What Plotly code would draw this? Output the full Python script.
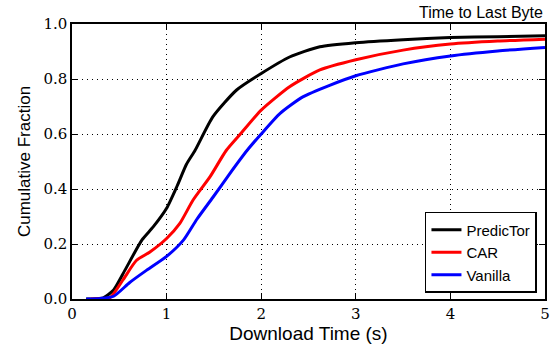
import plotly.graph_objects as go

# Data
pred_x = [0.15, 0.25, 0.33, 0.44, 0.56, 0.74, 0.86, 1.0, 1.11, 1.21, 1.30, 1.49, 1.74, 2.0, 2.3, 2.62, 3.0, 3.5, 4.0, 4.5, 5.0]
pred_y = [0.0, 0.001, 0.004, 0.033, 0.105, 0.215, 0.263, 0.33, 0.41, 0.49, 0.54, 0.663, 0.76, 0.82, 0.88, 0.917, 0.932, 0.943, 0.951, 0.954, 0.957]

car_x = [0.2, 0.3, 0.40, 0.54, 0.68, 0.82, 1.0, 1.14, 1.28, 1.46, 1.63, 1.78, 2.0, 2.3, 2.62, 3.0, 3.5, 4.0, 4.5, 5.0]
car_y = [0.0, 0.001, 0.004, 0.07, 0.14, 0.17, 0.22, 0.275, 0.36, 0.445, 0.54, 0.60, 0.687, 0.772, 0.833, 0.87, 0.905, 0.927, 0.938, 0.945]

van_x = [0.15, 0.3, 0.44, 0.61, 0.79, 1.0, 1.18, 1.32, 1.49, 1.67, 1.85, 2.0, 2.2, 2.44, 2.73, 3.0, 3.5, 4.0, 4.5, 5.0]
van_y = [0.0, 0.002, 0.01, 0.06, 0.105, 0.155, 0.215, 0.29, 0.37, 0.457, 0.54, 0.60, 0.675, 0.735, 0.778, 0.812, 0.855, 0.884, 0.902, 0.915]

series = [
    ("PredicTor", pred_x, pred_y, "#000000"),
    ("CAR", car_x, car_y, "#ff0000"),
    ("Vanilla", van_x, van_y, "#0000ff"),
]

x_ticks = [0, 1, 2, 3, 4, 5]
y_ticks = [0.0, 0.2, 0.4, 0.6, 0.8, 1.0]
y_tick_labels = ["0.0", "0.2", "0.4", "0.6", "0.8", "1.0"]

fig = go.Figure()
for name, xs, ys, color in series:
    fig.add_trace(go.Scatter(
        x=xs, y=ys, mode="lines", name=name,
        line=dict(color=color, width=3, shape="spline", smoothing=0.6),
    ))

axis_common = dict(
    showline=True, linecolor="black", linewidth=1.5, mirror="ticks",
    ticks="inside", ticklen=6, tickwidth=1, tickcolor="black",
    showgrid=True, gridcolor="black", gridwidth=1, griddash="1px,4px",
    zeroline=False, automargin=False,
    tickfont=dict(family="DejaVu Serif", size=15, color="black"),
)

fig.update_xaxes(
    range=[0, 5], tickvals=x_ticks, ticktext=[str(v) for v in x_ticks],
    title=dict(text="Download Time (s)", font=dict(family="Liberation Sans", size=19, color="black"), standoff=3),
    **axis_common,
)
fig.update_yaxes(
    range=[0, 1], tickvals=y_ticks, ticktext=y_tick_labels,
    title=dict(text="Cumulative Fraction", font=dict(family="Liberation Sans", size=17, color="black"), standoff=8),
    **axis_common,
)

fig.add_annotation(
    text="Time to Last Byte", xref="paper", yref="paper", x=1, y=1,
    xanchor="right", yanchor="bottom", yshift=1, showarrow=False,
    font=dict(family="Liberation Sans", size=16, color="black"),
)

fig.update_layout(
    width=558, height=345,
    margin=dict(l=72, r=13, t=24, b=46, autoexpand=False),
    paper_bgcolor="white", plot_bgcolor="white",
    legend=dict(
        x=0.983, y=0.022, xanchor="right", yanchor="bottom",
        bgcolor="white", bordercolor="black", borderwidth=1.5,
        font=dict(family="Liberation Sans", size=15, color="black"),
        tracegroupgap=0, itemwidth=30,
    ),
)

fig.write_html(
    "out.html",
    config={"displayModeBar": False},
    post_script="document.body.style.margin='0';",
)
